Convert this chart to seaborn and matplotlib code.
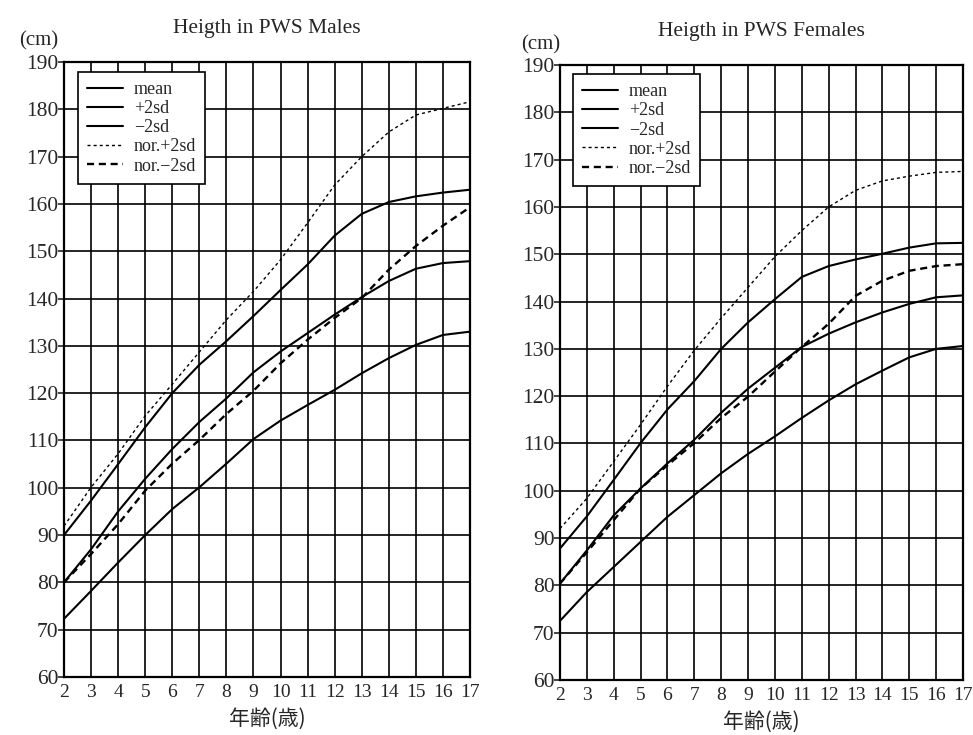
import matplotlib
matplotlib.use("Agg")
import matplotlib.pyplot as plt
import seaborn as sns
import numpy as np

ages = [2, 3, 4, 5, 6, 7, 8, 9, 10, 11, 12, 13, 14, 15, 16, 17]

# Males
m_mean = [80, 87, 95, 101.9, 108.2, 113.9, 118.9, 124.4, 128.8, 132.7, 136.6, 140.3, 143.7, 146.3, 147.5, 147.9]
m_plus = [90, 97.3, 105, 112.8, 120, 126, 131, 136.3, 141.8, 147.2, 153.3, 157.9, 160.4, 161.6, 162.4, 163]
m_minus = [72.3, 78.2, 84.2, 90, 95.5, 100.1, 105.1, 110.3, 114.2, 117.5, 120.7, 124.2, 127.4, 130.2, 132.3, 133]
m_nor_plus = [91.9, 100.1, 107.2, 115.2, 121.9, 128.7, 135.5, 141.5, 148.2, 156, 164, 170, 175.2, 178.8, 180.2, 181.6]
m_nor_minus = [80, 86, 92.3, 99.4, 105.1, 110.1, 115.6, 120.5, 126.3, 131.3, 135.9, 140.1, 146.1, 151.1, 155.4, 159.3]

# Females
f_mean = [80.4, 87.4, 94.8, 100.5, 105.8, 110.8, 116.5, 121.6, 126, 130.4, 133.2, 135.6, 137.7, 139.5, 140.9, 141.3]
f_plus = [87.8, 94.6, 102.3, 110.1, 117.2, 123.2, 130, 135.6, 140.5, 145.2, 147.5, 148.9, 150.1, 151.4, 152.3, 152.4]
f_minus = [72.5, 78.6, 83.9, 89.2, 94.5, 99.1, 103.7, 107.8, 111.5, 115.4, 119.1, 122.5, 125.4, 128.2, 130, 130.6]
f_nor_plus = [92, 98.4, 106.2, 114, 122.1, 129.7, 136.5, 143, 149.5, 155, 160, 163.5, 165.5, 166.5, 167.3, 167.5]
f_nor_minus = [80.4, 87, 93.8, 100.5, 105.4, 110.1, 115.4, 119.9, 125.2, 130.4, 135.3, 141.2, 144.4, 146.5, 147.5, 147.9]

labels = ["mean", "+2sd", "\u22122sd", "nor.+2sd", "nor.\u22122sd"]
titles = ["Heigth in PWS Males", "Heigth in PWS Females"]
y_ticks = list(range(60, 191, 10))
x_label = "年齢(歳)"
y_unit = "(cm)"

sns.set_style("white")
plt.rcParams["font.family"] = ["Liberation Serif", "Noto Sans CJK JP", "DejaVu Sans"]

fig = plt.figure(figsize=(9.73, 7.35), dpi=100)
ax_l = fig.add_axes([64 / 973, 1 - 677 / 735, 406 / 973, 615 / 735])
ax_r = fig.add_axes([560 / 973, 1 - 680 / 735, 403 / 973, 615 / 735])

styles = [
    dict(linestyle="-", linewidth=1.5),
    dict(linestyle="-", linewidth=1.5),
    dict(linestyle="-", linewidth=1.5),
    dict(linestyle=(0, (2.2, 2.2)), linewidth=1.0),
    dict(linestyle=(0, (3, 2)), linewidth=1.7),
]

panels = [
    (ax_l, [m_mean, m_plus, m_minus, m_nor_plus, m_nor_minus], titles[0],
     (0.034, 0.984), (19, 41)),
    (ax_r, [f_mean, f_plus, f_minus, f_nor_plus, f_nor_minus], titles[1],
     (0.032, 0.985), (521, 45)),
]

for ax, series, title, leg_anchor, cm_pos in panels:
    for vals, lab, st in zip(series, labels, styles):
        sns.lineplot(x=ages, y=vals, ax=ax, color="black", label=lab, **st)
    ax.set_xlim(2, 17)
    ax.set_ylim(60, 190)
    ax.set_xticks(ages)
    ax.set_yticks(y_ticks)
    ax.grid(True, color="black", linewidth=1.2)
    ax.set_axisbelow(True)
    for sp in ax.spines.values():
        sp.set_color("black")
        sp.set_linewidth(1.6)
    ax.tick_params(axis="y", length=4, width=1.2, labelsize=15.5, pad=0, direction="out", left=True)
    ax.tick_params(axis="x", length=0, labelsize=14, pad=5)
    ax.set_xlabel(x_label, fontsize=15, family=["Noto Sans CJK JP", "DejaVu Sans"], labelpad=5)
    ax.set_ylabel("")
    ax.set_title(title, fontsize=15.5, pad=21)
    leg = ax.legend(loc="upper left", bbox_to_anchor=leg_anchor, borderaxespad=0,
                    fontsize=13, frameon=True, fancybox=False, handlelength=2.0,
                    labelspacing=0.12, handletextpad=0.6, borderpad=0.5)
    leg.get_frame().set_edgecolor("black")
    leg.get_frame().set_linewidth(1.2)
    leg.get_frame().set_alpha(1)
    fig.text(cm_pos[0] / 973, 1 - cm_pos[1] / 735, y_unit, fontsize=15, va="center", ha="left")

fig.savefig("out.png", dpi=100, facecolor="white")
